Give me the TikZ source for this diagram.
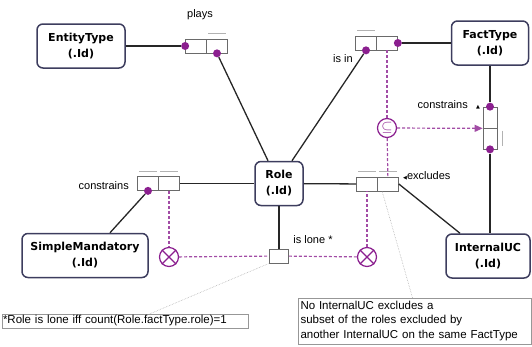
\documentclass[tikz,border=0pt]{standalone}
\usepackage{fontspec}
\setmainfont{Liberation Sans}
\newfontfamily\typefont{DejaVu Sans}
\usetikzlibrary{arrows.meta}
\definecolor{ormpurple}{HTML}{8B1F8F}
\definecolor{ormframe}{HTML}{3D3D5E}
\definecolor{ormgray}{HTML}{6A6A6A}
\begin{document}
\begin{tikzpicture}[x=1pt,y=-1pt]
\tikzset{otype/.style={draw=ormframe,fill=white,rounded corners=6pt,line width=1.5pt,minimum height=44pt,align=center,inner sep=2pt,font=\typefont\bfseries\fontsize{11}{16}\selectfont},
         rbox/.style={draw=ormgray,fill=white,minimum width=21pt,minimum height=14pt,inner sep=0pt,line width=0.7pt},
         vbox/.style={rbox,minimum width=14pt,minimum height=21pt},
         dot/.style={circle,fill=ormpurple,inner sep=0pt,minimum size=8pt},
         ccirc/.style={circle,draw=ormpurple,fill=white,line width=1.2pt,inner sep=0pt,minimum size=19pt},
         lab/.style={inner sep=1pt,font=\fontsize{11}{13}\selectfont},
         note/.style={draw=ormgray!70,fill=white,inner sep=2pt,line width=0.5pt,font=\fontsize{11.5}{14.5}\selectfont},
         link/.style={draw=black!85,line width=1.3pt},
         cline/.style={draw=ormpurple!80,line width=1.2pt,dash pattern=on 3pt off 2pt},
         uniq/.style={draw=gray!60,line width=0.9pt},
         nline/.style={draw=gray!60,line width=0.6pt,densely dotted}}
\useasboundingbox (0,0) rectangle (532,346);
\node[otype,minimum width=88pt] (ent) at (81,46) {EntityType\\(.Id)};
\node[otype,minimum width=77pt] (fact) at (490,43) {FactType\\(.Id)};
\node[otype,minimum width=48pt] (role) at (279,183.5) {Role\\(.Id)};
\node[otype,minimum width=126pt] (mand) at (85,255.5) {SimpleMandatory\\(.Id)};
\node[otype,minimum width=84pt] (iuc) at (488,256) {InternalUC\\(.Id)};
\node[rbox] (p1) at (196,46) {};
\node[rbox] (p2) at (217,46) {};
\node[rbox] (i1) at (366,43) {};
\node[rbox] (i2) at (387,43) {};
\node[rbox] (m1) at (148,183.5) {};
\node[rbox] (m2) at (169,183.5) {};
\node[rbox] (x1) at (367,184) {};
\node[rbox] (x2) at (388,184) {};
\node[vbox] (c1) at (490,117.5) {};
\node[vbox] (c2) at (490,138.5) {};
\node[rbox,minimum width=19pt] (lone) at (279,256) {};
\draw[uniq] ([xshift=2pt,yshift=5pt]p2.north west) -- ([xshift=-2pt,yshift=5pt]p2.north east);
\draw[uniq] ([xshift=2pt,yshift=5pt]i1.north west) -- ([xshift=-2pt,yshift=5pt]i1.north east);
\draw[uniq] ([xshift=2pt,yshift=5pt]m1.north west) -- ([xshift=-2pt,yshift=5pt]m1.north east);
\draw[uniq] ([xshift=2pt,yshift=5pt]m2.north west) -- ([xshift=-2pt,yshift=5pt]m2.north east);
\draw[uniq] ([xshift=2pt,yshift=5pt]x1.north west) -- ([xshift=-2pt,yshift=5pt]x1.north east);
\draw[uniq] ([xshift=2pt,yshift=5pt]x2.north west) -- ([xshift=-2pt,yshift=5pt]x2.north east);
\draw[uniq] ([xshift=5pt,yshift=-3pt]c2.north east) -- ([xshift=5pt,yshift=3pt]c2.south east);
\node[dot] (dp1) at (p1.west) {};
\node[dot] (dp2) at (p2.south) {};
\node[dot] (di1) at (i1.south) {};
\node[dot] (di2) at (i2.east) {};
\node[dot] (dm1) at (m1.south) {};
\node[dot] (dc1) at (c1.north) {};
\node[dot] (dc2) at (c2.south) {};
\node[ccirc,text=ormpurple] (sub) at (387,128) {\Large$\subseteq$};
\node[ccirc] (xm) at (169,257) {};
\node[ccirc] (xx) at (367,257) {};
\draw[ormpurple,line width=1.2pt] (xm.north east) -- (xm.south west) (xm.north west) -- (xm.south east);
\draw[ormpurple,line width=1.2pt] (xx.north east) -- (xx.south west) (xx.north west) -- (xx.south east);
\draw[link] (ent) -- (dp1);
\draw[link] (dp2) -- ([xshift=-11pt]role.north);
\draw[link] (di1) -- ([xshift=13pt]role.north);
\draw[link] (di2) -- (di2 -| fact.west);
\draw[link] (fact) -- (dc1);
\draw[link] (dc2) -- (dc2 |- iuc.north);
\draw[link] (m2) -- (role);
\draw[link] (role) -- (x1);
\draw[link] (dm1) -- ([xshift=25pt]mand.north);
\draw[link] (x2.east) -- ([xshift=-28pt]iuc.north);
\draw[link] (role) -- (lone);
\draw[cline] (i2) -- (sub);
\draw[cline] (sub) -- (x2);
\draw[cline,-{Triangle[length=8pt,width=7pt]}] (sub) -- (c1.south west);
\draw[cline] (m2) -- (xm);
\draw[cline] (xm) -- (lone);
\draw[cline] (lone) -- (xx);
\draw[cline] (xx) -- (x1);
\node[lab] (lplays) at (200,15) {plays};
\node[lab] (lisin) at (343,59) {is in};
\node[lab,anchor=east] (lcon1) at (130,186) {constrains};
\node[lab,anchor=east] (lcon2) at (469,105) {constrains};
\node[lab,font=\typefont\fontsize{5}{5}\selectfont] (rcon2) at (478,107) {▲};
\node[lab,anchor=west] (lexcl) at (402,176) {{\typefont\fontsize{5}{5}\selectfont ◀}excludes};
\node[lab] (llone) at (313,240) {is lone *};
\node[note,minimum height=14pt,inner sep=1pt,align=left,text width=244pt] (note1) at (125,321) {*Role is lone iff count(Role.factType.role)=1};
\node[note,minimum width=233pt,minimum height=46pt,align=left,text width=228pt] (note2) at (414.5,321) {No InternalUC excludes a\\subset of the roles excluded by\\another InternalUC on the same FactType};
\draw[nline] ([xshift=25pt]note1.north) -- (lone.south west);
\draw[nline] ([xshift=-2pt]note2.north) -- ([xshift=5pt]x2.south west);
\end{tikzpicture}
\end{document}
